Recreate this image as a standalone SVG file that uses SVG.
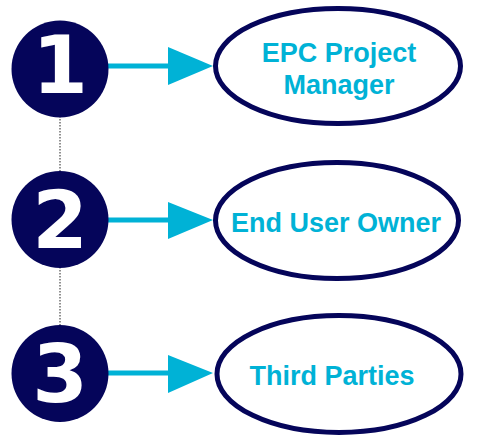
<svg xmlns="http://www.w3.org/2000/svg" width="487" height="447" viewBox="0 0 487 447">
<style>
.num{fill:#05055a}
.digit{fill:#ffffff;font-family:"DejaVu Sans",sans-serif;font-weight:bold;font-size:80px;text-anchor:middle}
.ell{fill:#ffffff;stroke:#05055a;stroke-width:5}
.lbl{fill:#00b2d6;font-family:"Liberation Sans",Arial,sans-serif;font-weight:bold;font-size:27px;text-anchor:middle}
.arr{stroke:#00b2d6;stroke-width:5;fill:none}
.head{fill:#00b2d6}
.dot{stroke:#222;stroke-width:1;stroke-dasharray:1.5,1.5}
</style>
<rect width="487" height="447" fill="#ffffff"/>
<g id="connectors">
<line class="dot" x1="60" y1="113" x2="60" y2="172"/>
<line class="dot" x1="60" y1="267" x2="60" y2="325"/>
<line class="arr" x1="106" y1="66" x2="172" y2="66"/>
<polygon class="head" points="168,47 213,66 168,85"/>
<line class="arr" x1="106" y1="220" x2="172" y2="220"/>
<polygon class="head" points="168,202 213,220 168,239"/>
<line class="arr" x1="106" y1="373" x2="172" y2="373"/>
<polygon class="head" points="168,355 213,373 168,393"/>
</g>
<g id="n1">
<circle class="num" cx="60" cy="69" r="48.5"/>
<text class="digit" x="60" y="93">1</text>
</g>
<g id="n2">
<circle class="num" cx="60" cy="219.5" r="48.5"/>
<text class="digit" x="60" y="248">2</text>
</g>
<g id="n3">
<circle class="num" cx="60" cy="373.5" r="48.5"/>
<text class="digit" x="60" y="402">3</text>
</g>
<g id="e1">
<ellipse class="ell" cx="338" cy="66" rx="122.5" ry="57.5"/>
<text class="lbl" x="339" y="62">EPC Project</text>
<text class="lbl" x="339" y="94">Manager</text>
</g>
<g id="e2">
<ellipse class="ell" cx="337" cy="220.5" rx="121.5" ry="58"/>
<text class="lbl" x="336" y="232">End User Owner</text>
</g>
<g id="e3">
<ellipse class="ell" cx="339" cy="374" rx="122" ry="58.5"/>
<text class="lbl" x="332" y="385">Third Parties</text>
</g>
</svg>
